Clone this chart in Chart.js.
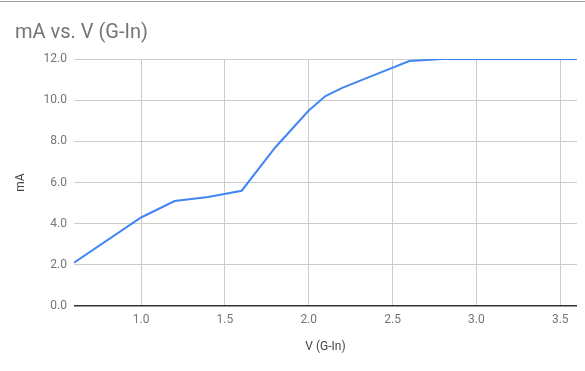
<!DOCTYPE html>
<html>
<head>
<meta charset="utf-8">
<script src="https://cdn.jsdelivr.net/npm/chart.js@4"></script>
<style>
  html, body { margin: 0; padding: 0; background: #fff; }
  #wrap { position: relative; width: 585px; height: 371px; overflow: hidden; }
  #topline { position: absolute; left: 0; top: 1px; width: 585px; height: 0; border-top: 1px solid #9e9e9e; }
  #title { position: absolute; left: 15px; top: 19px; font-family: Roboto, sans-serif; font-size: 20px; color: #757575; white-space: nowrap; }
  canvas { position: absolute; left: 0; top: 0; }
</style>
</head>
<body>
<div id="wrap">
  <div id="topline"></div>
  <canvas id="c" width="585" height="371"></canvas>
  <div id="title">mA vs. V (G-In)</div>
</div>
<script>
const voltage = [0.6, 1.0, 1.2, 1.4, 1.6, 1.8, 2.0, 2.1, 2.2, 2.4, 2.6, 2.8, 3.0, 3.2, 3.4, 3.6];
const current = [2.1, 4.3, 5.1, 5.3, 5.6, 7.7, 9.5, 10.2, 10.6, 11.25, 11.9, 12.0, 12.0, 12.0, 12.0, 12.0];
const xTicks = [1.0, 1.5, 2.0, 2.5, 3.0, 3.5];
const yTicks = [0, 2, 4, 6, 8, 10, 12];

const points = voltage.map((v, i) => ({ x: v, y: current[i] }));

new Chart(document.getElementById('c'), {
  type: 'line',
  data: {
    datasets: [{
      data: points,
      borderColor: '#4285F4',
      borderWidth: 2,
      pointRadius: 0,
      fill: false,
      tension: 0
    }]
  },
  options: {
    responsive: false,
    animation: false,
    layout: { padding: { left: 0, right: 8, top: 59, bottom: 0 } },
    plugins: { legend: { display: false }, title: { display: false }, tooltip: { enabled: false } },
    scales: {
      x: {
        type: 'linear',
        min: 0.6,
        max: 3.6,
        afterBuildTicks: s => { s.ticks = xTicks.map(v => ({ value: v })); },
        afterFit: s => { s.height = 65; },
        grid: { color: '#cccccc', drawTicks: false, lineWidth: 1 },
        border: { display: false },
        ticks: {
          padding: 7,
          color: '#757575',
          font: { family: 'Roboto', size: 12 },
          maxRotation: 0,
          callback: v => Number(v).toFixed(1)
        },
        title: {
          display: true,
          text: 'V (G-In)',
          color: '#444',
          font: { family: 'Roboto', size: 12 },
          padding: { top: 0, bottom: 17 }
        }
      },
      y: {
        min: 0,
        max: 12,
        afterBuildTicks: s => { s.ticks = yTicks.map(v => ({ value: v })); },
        afterFit: s => { s.width = 74; },
        grid: {
          color: c => (c.tick && c.tick.value === 0) ? '#333333' : '#cccccc',
          drawTicks: false,
          lineWidth: c => (c.tick && c.tick.value === 0) ? 1.5 : 1
        },
        border: { display: false },
        ticks: {
          padding: 7,
          color: '#757575',
          font: { family: 'Roboto', size: 12 },
          callback: v => Number(v).toFixed(1)
        },
        title: {
          display: true,
          text: 'mA',
          color: '#444',
          font: { family: 'Roboto', size: 12 },
          padding: { top: 14, bottom: 0 }
        }
      }
    }
  }
});
</script>
</body>
</html>
